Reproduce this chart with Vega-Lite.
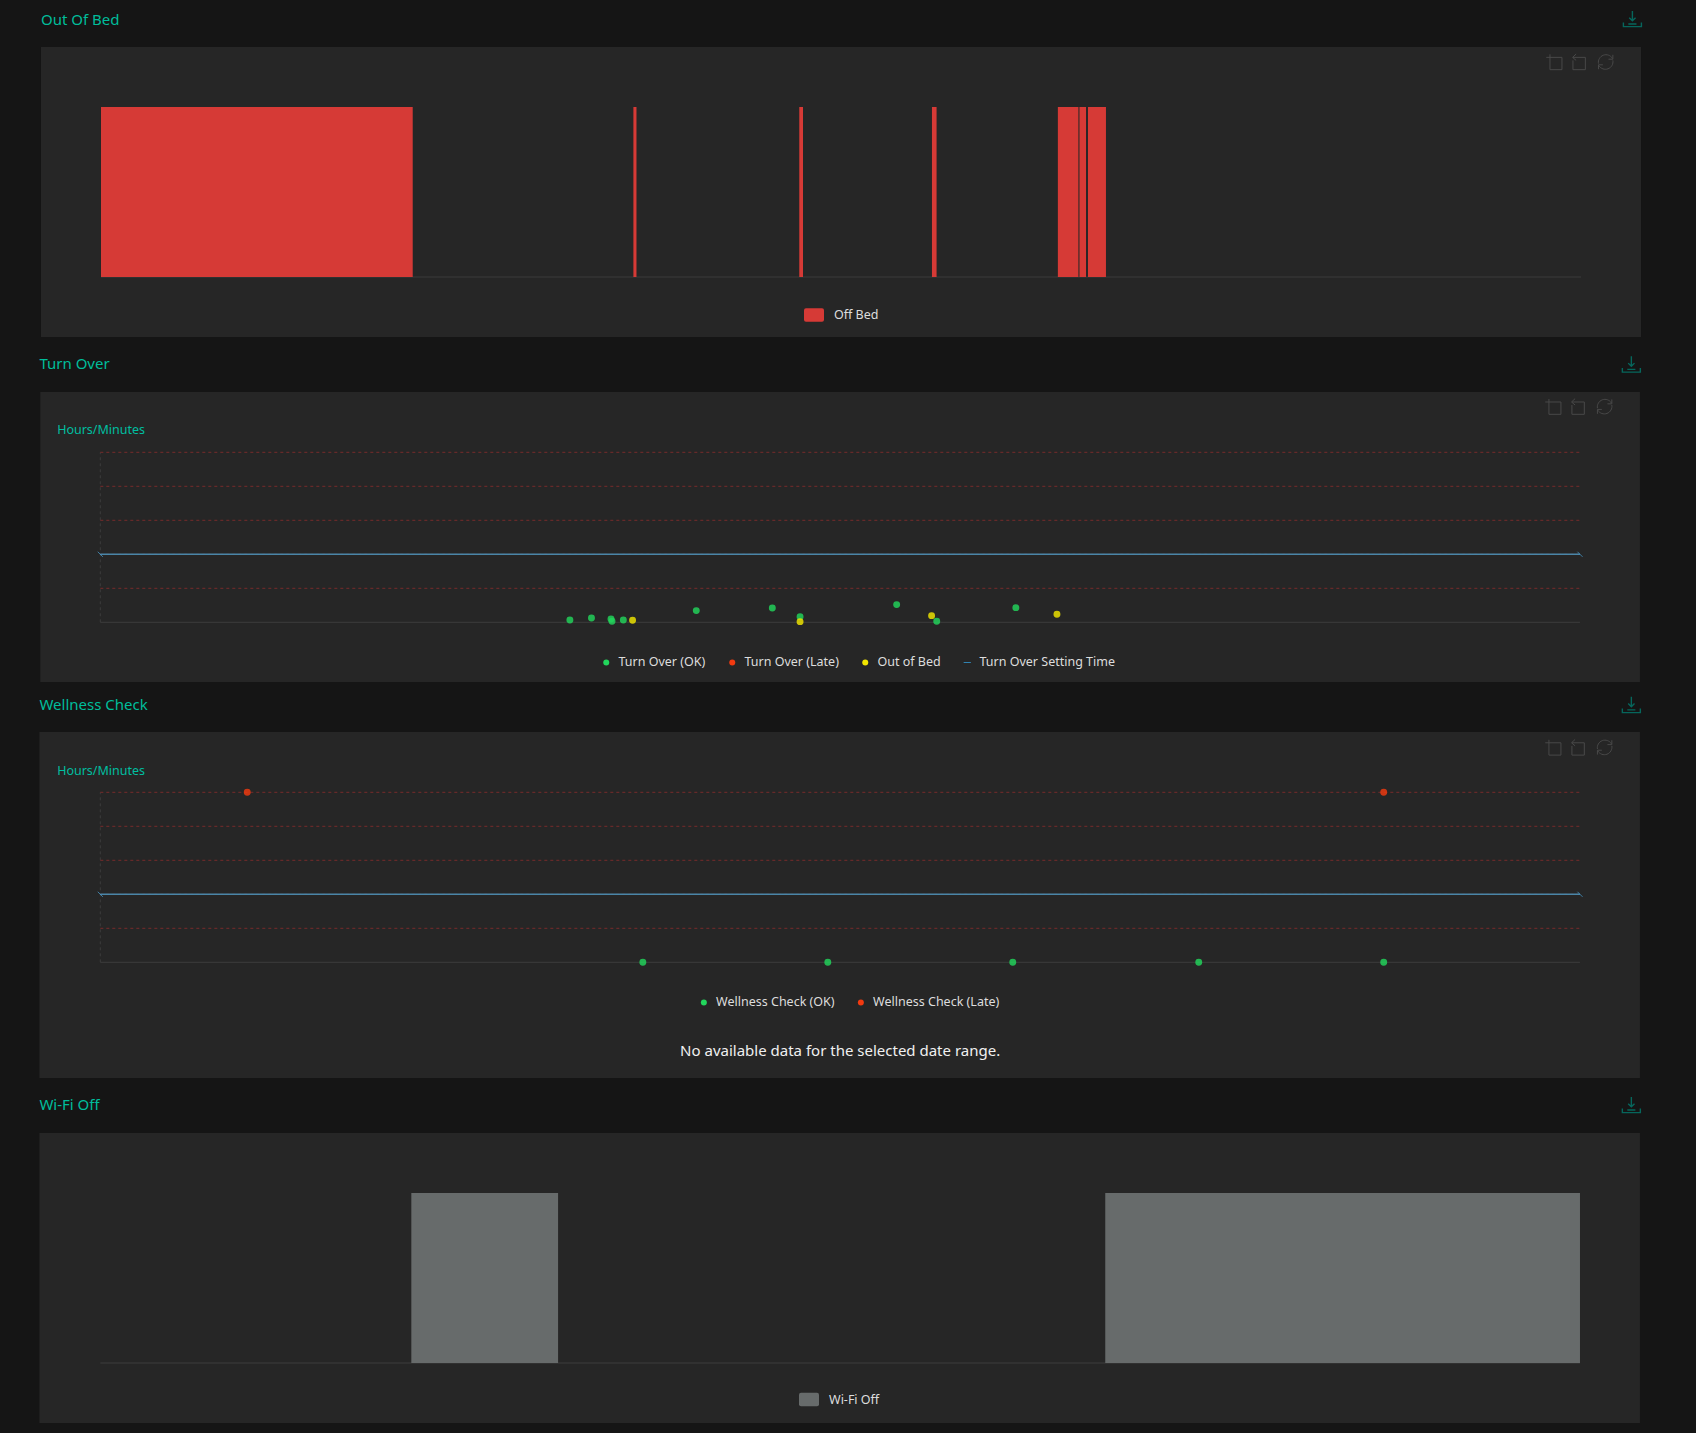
{"$schema":"https://vega.github.io/schema/vega-lite/v6.json","background":"#151515","padding":0,"autosize":{"type":"pad"},"bounds":"flush","spacing":0,
"resolve":{"scale":{"color":"independent","shape":"independent"},"legend":{"color":"independent","shape":"independent"}},
"config":{"view":{"fill":null,"stroke":null},"font":"Noto Sans","axis":{"labelFont":"Noto Sans","labelFontSize":12.5,"labelColor":"#dddddd","title":null,"domain":false,"grid":false,"tickColor":"#3c3c3c","labelOverlap":false,"labelFlush":false,"labelBound":false,"zindex":1},"legend":{"labelFont":"Noto Sans","labelFontSize":12.5,"labelColor":"#dddddd","title":null,"orient":"none","direction":"horizontal"}},
"vconcat":[
{"width":1696,"height":345,
"layer":[
{"data":{"values":[{"start":"2024-01-01T14:01:37","end":"2024-01-02T15:58:23","low":-0.35294,"high":1.35294}]},"mark":{"type":"rect","color":"#262626"},
"encoding":{"x":{"field":"start","type":"temporal","scale":{"domain":["2024-01-01T13:21:44","2024-01-02T16:51:53"],"nice":false},"axis":{"values":["2024-01-01T15:00:00","2024-01-01T20:00:00","2024-01-02T01:00:00","2024-01-02T06:00:00","2024-01-02T11:00:00","2024-01-02T15:00:00"],"format":"%-H:%M","orient":"bottom","offset":-68,"ticks":false,"labelPadding":0}},"x2":{"field":"end"},"y":{"field":"low","type":"quantitative","scale":{"domain":[-0.4,1.62941],"nice":false,"zero":false},"axis":null},"y2":{"field":"high"}}},
{"data":{"values":[{"start":"2024-01-01T15:00:00","end":"2024-01-02T15:00:00","level":0}]},"mark":{"type":"rule","color":"#3c3c3c","strokeWidth":1},"encoding":{"x":{"field":"start","type":"temporal"},"x2":{"field":"end"},"y":{"field":"level","type":"quantitative"}}},
{"data":{"values":[{"start":"2024-01-01T15:00:00","end":"2024-01-01T20:03:18","series":"Off Bed"},{"start":"2024-01-01T23:38:00","end":"2024-01-01T23:41:00","series":"Off Bed"},{"start":"2024-01-02T02:19:24","end":"2024-01-02T02:23:00","series":"Off Bed"},{"start":"2024-01-02T04:28:30","end":"2024-01-02T04:33:00","series":"Off Bed"},{"start":"2024-01-02T06:31:00","end":"2024-01-02T06:51:00","series":"Off Bed"},{"start":"2024-01-02T06:52:00","end":"2024-01-02T06:58:24","series":"Off Bed"},{"start":"2024-01-02T07:00:18","end":"2024-01-02T07:17:48","series":"Off Bed"}]},"mark":{"type":"rect"},
"encoding":{"x":{"field":"start","type":"temporal"},"x2":{"field":"end"},"y":{"datum":0,"type":"quantitative"},"y2":{"datum":1},"color":{"field":"series","type":"nominal","scale":{"domain":["Off Bed"],"range":["#d63a36"]},"legend":{"legendX":804,"legendY":305,"symbolType":"M-1,-0.48Q-1,-0.68 -0.8,-0.68H0.8Q1,-0.68 1,-0.48V0.48Q1,0.68 0.8,0.68H-0.8Q-1,0.68 -1,0.48Z","symbolSize":400,"symbolStrokeWidth":0,"labelOffset":10}}}},
{"data":{"values":[{"t":"2024-01-01T14:01:37","v":1.5147,"label":"Out Of Bed"}]},"mark":{"type":"text","align":"left","baseline":"middle","color":"#00bd9b","fontSize":15,"font":"Noto Sans"},"encoding":{"x":{"field":"t","type":"temporal"},"y":{"field":"v","type":"quantitative"},"text":{"field":"label"}}},
{"data":{"values":[{"t":"2024-01-02T15:50:00","v":1.5176}]},"mark":{"type":"point","filled":false,"size":324,"strokeWidth":1.4,"color":"#00897b","shape":"M0,-0.9V0.2M-0.35,-0.15L0,0.2L0.35,-0.15M-1,0.4V0.85H1V0.4M-0.45,0.55H0.45"},"encoding":{"x":{"field":"t","type":"temporal"},"y":{"field":"v","type":"quantitative"}}},
{"data":{"values":[{"t":"2024-01-02T14:34:00","v":1.2647}]},"mark":{"type":"point","filled":false,"size":256,"strokeWidth":1,"color":"#585858","shape":"M-1,-0.58H0.96V0.96H-0.54V-0.96"},"encoding":{"x":{"field":"t","type":"temporal"},"y":{"field":"v","type":"quantitative"}}},
{"data":{"values":[{"t":"2024-01-02T14:58:00","v":1.2647}]},"mark":{"type":"point","filled":false,"size":256,"strokeWidth":1,"color":"#585858","shape":"M-0.75,-0.58H0.8V0.96H-0.75V-0.2M-0.35,-1L-0.8,-0.58L-0.35,-0.2"},"encoding":{"x":{"field":"t","type":"temporal"},"y":{"field":"v","type":"quantitative"}}},
{"data":{"values":[{"t":"2024-01-02T15:24:00","v":1.2647}]},"mark":{"type":"point","filled":false,"size":256,"strokeWidth":1,"color":"#585858","shape":"M-0.9,0.2A0.95,0.95 0 0 1 0.85,-0.45M0.9,-0.9V-0.35H0.35M0.9,-0.2A0.95,0.95 0 0 1 -0.85,0.45M-0.9,0.9V0.35H-0.35"},"encoding":{"x":{"field":"t","type":"temporal"},"y":{"field":"v","type":"quantitative"}}}
]},
{"width":1696,"height":345,
"layer":[
{"data":{"values":[{"start":"2024-01-01T14:01:37","end":"2024-01-02T15:58:23","low":-5.27,"high":20.32}]},"mark":{"type":"rect","color":"#262626"},
"encoding":{"x":{"field":"start","type":"temporal","scale":{"domain":["2024-01-01T13:22:23","2024-01-02T16:52:55"],"nice":false},"axis":{"values":["2024-01-01T15:00:00","2024-01-01T18:00:00","2024-01-01T21:00:00","2024-01-02T00:00:00","2024-01-02T03:00:00","2024-01-02T06:00:00","2024-01-02T09:00:00","2024-01-02T12:00:00","2024-01-02T15:00:00"],"format":"%-H:%M","orient":"bottom","offset":-67.7,"tickSize":5,"labelPadding":1}},"x2":{"field":"end"},"y":{"field":"low","type":"quantitative","scale":{"domain":[-5.974,24.468],"nice":false,"zero":false},"axis":{"values":[0,3,6,9,12,15],"labelExpr":"datum.value==15?'>12h':datum.value==12?'12h':datum.value==6?'6h':''","orient":"left","offset":-100.3,"tickSize":5,"labelPadding":3,"labelFontSize":11.5,"labelBaseline":"middle"}},"y2":{"field":"high"}}},
{"data":{"values":[{"start":"2024-01-01T15:00:00","end":"2024-01-02T15:00:00","level":0}]},"mark":{"type":"rule","color":"#3c3c3c","strokeWidth":1},"encoding":{"x":{"field":"start","type":"temporal"},"x2":{"field":"end"},"y":{"field":"level","type":"quantitative"}}},
{"data":{"values":[{"start":"2024-01-01T15:00:00","low":0,"high":15}]},"mark":{"type":"rule","color":"#3c3c3c","strokeDash":[3,3]},"encoding":{"x":{"field":"start","type":"temporal"},"y":{"field":"low","type":"quantitative"},"y2":{"field":"high"}}},
{"data":{"values":[{"start":"2024-01-01T15:00:00","end":"2024-01-02T15:00:00","level":3},{"start":"2024-01-01T15:00:00","end":"2024-01-02T15:00:00","level":6},{"start":"2024-01-01T15:00:00","end":"2024-01-02T15:00:00","level":9},{"start":"2024-01-01T15:00:00","end":"2024-01-02T15:00:00","level":12},{"start":"2024-01-01T15:00:00","end":"2024-01-02T15:00:00","level":15}]},"mark":{"type":"rule","color":"#772b2b","strokeDash":[3,3]},"encoding":{"x":{"field":"start","type":"temporal"},"x2":{"field":"end"},"y":{"field":"level","type":"quantitative"}}},
{"data":{"values":[{"start":"2024-01-01T15:00:00","end":"2024-01-02T15:00:00","level":6}]},"mark":{"type":"rule","color":"#4a86a8","strokeWidth":1.6},"encoding":{"x":{"field":"start","type":"temporal"},"x2":{"field":"end"},"y":{"field":"level","type":"quantitative"}}},
{"data":{"values":[{"t":"2024-01-01T15:00:00","v":6},{"t":"2024-01-02T15:00:00","v":6}]},"mark":{"type":"point","filled":false,"size":36,"strokeWidth":1,"color":"#4aa3d8","shape":"M-0.85,-0.85L0.85,0.85"},"encoding":{"x":{"field":"t","type":"temporal"},"y":{"field":"v","type":"quantitative"}}},
{"data":{"values":[{"t":"2024-01-01T14:18:00","v":17,"label":"Hours/Minutes"}]},"mark":{"type":"text","align":"left","baseline":"middle","color":"#00bfa0","fontSize":12.5,"font":"Noto Sans"},"encoding":{"x":{"field":"t","type":"temporal"},"y":{"field":"v","type":"quantitative"},"text":{"field":"label"}}},
{"data":{"values":[{"t":"2024-01-01T14:00:44","v":22.75,"label":"Turn Over"}]},"mark":{"type":"text","align":"left","baseline":"middle","color":"#00bd9b","fontSize":15,"font":"Noto Sans"},"encoding":{"x":{"field":"t","type":"temporal"},"y":{"field":"v","type":"quantitative"},"text":{"field":"label"}}},
{"data":{"values":[
{"t":"2024-01-01T22:37:00","v":0.206,"series":"Turn Over (OK)"},{"t":"2024-01-01T22:58:00","v":0.382,"series":"Turn Over (OK)"},{"t":"2024-01-01T23:17:00","v":0.294,"series":"Turn Over (OK)"},{"t":"2024-01-01T23:18:00","v":0.088,"series":"Turn Over (OK)"},{"t":"2024-01-01T23:29:00","v":0.206,"series":"Turn Over (OK)"},{"t":"2024-01-02T00:40:00","v":1.03,"series":"Turn Over (OK)"},{"t":"2024-01-02T01:54:00","v":1.265,"series":"Turn Over (OK)"},{"t":"2024-01-02T02:21:00","v":0.5,"series":"Turn Over (OK)"},{"t":"2024-01-02T03:55:00","v":1.56,"series":"Turn Over (OK)"},{"t":"2024-01-02T04:34:00","v":0.088,"series":"Turn Over (OK)"},{"t":"2024-01-02T05:51:00","v":1.294,"series":"Turn Over (OK)"},
{"t":"2024-01-01T23:38:00","v":0.176,"series":"Out of Bed"},{"t":"2024-01-02T02:21:00","v":0.059,"series":"Out of Bed"},{"t":"2024-01-02T04:29:00","v":0.588,"series":"Out of Bed"},{"t":"2024-01-02T06:31:00","v":0.706,"series":"Out of Bed"}]},
"mark":{"type":"point","filled":true,"size":48,"opacity":0.82},"encoding":{"x":{"field":"t","type":"temporal"},"y":{"field":"v","type":"quantitative"},
"color":{"field":"series","type":"nominal","scale":{"domain":["Turn Over (OK)","Turn Over (Late)","Out of Bed","Turn Over Setting Time"],"range":["#22d65c","#f23a10","#f2e600","#35a8e8"]},"legend":{"legendX":600,"legendY":311,"symbolOpacity":1,"symbolSize":36,"columnPadding":20,"labelOffset":6,"columns":4,"symbolStrokeWidth":0}},
"shape":{"field":"series","type":"nominal","scale":{"domain":["Turn Over (OK)","Turn Over (Late)","Out of Bed","Turn Over Setting Time"],"range":["circle","circle","circle","M-1.2,-0.12H1.2V0.12H-1.2Z"]},"legend":{"legendX":600,"legendY":311,"symbolOpacity":1,"symbolSize":36,"columnPadding":20,"labelOffset":6,"columns":4,"symbolStrokeWidth":0}}}},
{"data":{"values":[{"t":"2024-01-02T15:50:00","v":22.75}]},"mark":{"type":"point","filled":false,"size":324,"strokeWidth":1.4,"color":"#00897b","shape":"M0,-0.9V0.2M-0.35,-0.15L0,0.2L0.35,-0.15M-1,0.4V0.85H1V0.4M-0.45,0.55H0.45"},"encoding":{"x":{"field":"t","type":"temporal"},"y":{"field":"v","type":"quantitative"}}},
{"data":{"values":[{"t":"2024-01-02T14:34:00","v":19.03}]},"mark":{"type":"point","filled":false,"size":256,"strokeWidth":1,"color":"#585858","shape":"M-1,-0.58H0.96V0.96H-0.54V-0.96"},"encoding":{"x":{"field":"t","type":"temporal"},"y":{"field":"v","type":"quantitative"}}},
{"data":{"values":[{"t":"2024-01-02T14:58:00","v":19.03}]},"mark":{"type":"point","filled":false,"size":256,"strokeWidth":1,"color":"#585858","shape":"M-0.75,-0.58H0.8V0.96H-0.75V-0.2M-0.35,-1L-0.8,-0.58L-0.35,-0.2"},"encoding":{"x":{"field":"t","type":"temporal"},"y":{"field":"v","type":"quantitative"}}},
{"data":{"values":[{"t":"2024-01-02T15:24:00","v":19.03}]},"mark":{"type":"point","filled":false,"size":256,"strokeWidth":1,"color":"#585858","shape":"M-0.9,0.2A0.95,0.95 0 0 1 0.85,-0.45M0.9,-0.9V-0.35H0.35M0.9,-0.2A0.95,0.95 0 0 1 -0.85,0.45M-0.9,0.9V0.35H-0.35"},"encoding":{"x":{"field":"t","type":"temporal"},"y":{"field":"v","type":"quantitative"}}}
]},
{"width":1696,"height":400,
"layer":[
{"data":{"values":[{"start":"2024-01-01T11:00:44","end":"2024-01-02T12:58:23","low":-3.403,"high":6.774}]},"mark":{"type":"rect","color":"#262626"},
"encoding":{"x":{"field":"start","type":"temporal","scale":{"domain":["2024-01-01T10:22:23","2024-01-02T13:52:55"],"nice":false},"axis":{"values":["2024-01-01T12:00:00","2024-01-01T15:00:00","2024-01-01T18:00:00","2024-01-01T21:00:00","2024-01-02T00:00:00","2024-01-02T03:00:00","2024-01-02T06:00:00","2024-01-02T09:00:00","2024-01-02T12:00:00"],"format":"%-H:%M","orient":"bottom","offset":-127.7,"tickSize":5,"labelPadding":1}},"x2":{"field":"end"},"y":{"field":"low","type":"quantitative","scale":{"domain":[-3.756,8.009],"nice":false,"zero":false},"axis":{"values":[0,1,2,3,4,5],"labelExpr":"datum.value==5?'>4h':datum.value==4?'4h':datum.value==2?'2h':''","orient":"left","offset":-100.3,"tickSize":5,"labelPadding":3,"labelFontSize":11.5,"labelBaseline":"middle"}},"y2":{"field":"high"}}},
{"data":{"values":[{"start":"2024-01-01T12:00:00","end":"2024-01-02T12:00:00","level":0}]},"mark":{"type":"rule","color":"#3c3c3c","strokeWidth":1},"encoding":{"x":{"field":"start","type":"temporal"},"x2":{"field":"end"},"y":{"field":"level","type":"quantitative"}}},
{"data":{"values":[{"start":"2024-01-01T12:00:00","low":0,"high":5}]},"mark":{"type":"rule","color":"#3c3c3c","strokeDash":[3,3]},"encoding":{"x":{"field":"start","type":"temporal"},"y":{"field":"low","type":"quantitative"},"y2":{"field":"high"}}},
{"data":{"values":[{"start":"2024-01-01T12:00:00","end":"2024-01-02T12:00:00","level":1},{"start":"2024-01-01T12:00:00","end":"2024-01-02T12:00:00","level":2},{"start":"2024-01-01T12:00:00","end":"2024-01-02T12:00:00","level":3},{"start":"2024-01-01T12:00:00","end":"2024-01-02T12:00:00","level":4},{"start":"2024-01-01T12:00:00","end":"2024-01-02T12:00:00","level":5}]},"mark":{"type":"rule","color":"#772b2b","strokeDash":[3,3]},"encoding":{"x":{"field":"start","type":"temporal"},"x2":{"field":"end"},"y":{"field":"level","type":"quantitative"}}},
{"data":{"values":[{"start":"2024-01-01T12:00:00","end":"2024-01-02T12:00:00","level":2}]},"mark":{"type":"rule","color":"#4a86a8","strokeWidth":1.6},"encoding":{"x":{"field":"start","type":"temporal"},"x2":{"field":"end"},"y":{"field":"level","type":"quantitative"}}},
{"data":{"values":[{"t":"2024-01-01T12:00:00","v":2},{"t":"2024-01-02T12:00:00","v":2}]},"mark":{"type":"point","filled":false,"size":36,"strokeWidth":1,"color":"#4aa3d8","shape":"M-0.85,-0.85L0.85,0.85"},"encoding":{"x":{"field":"t","type":"temporal"},"y":{"field":"v","type":"quantitative"}}},
{"data":{"values":[{"t":"2024-01-01T11:18:00","v":5.63,"label":"Hours/Minutes"}]},"mark":{"type":"text","align":"left","baseline":"middle","color":"#00bfa0","fontSize":12.5,"font":"Noto Sans"},"encoding":{"x":{"field":"t","type":"temporal"},"y":{"field":"v","type":"quantitative"},"text":{"field":"label"}}},
{"data":{"values":[{"t":"2024-01-01T11:00:44","v":7.57,"label":"Wellness Check"}]},"mark":{"type":"text","align":"left","baseline":"middle","color":"#00bd9b","fontSize":15,"font":"Noto Sans"},"encoding":{"x":{"field":"t","type":"temporal"},"y":{"field":"v","type":"quantitative"},"text":{"field":"label"}}},
{"data":{"values":[{"t":"2024-01-02T00:00:00","v":-2.61,"label":"No available data for the selected date range."}]},"mark":{"type":"text","align":"center","baseline":"middle","color":"#f0f0f0","fontSize":15,"font":"Noto Sans"},"encoding":{"x":{"field":"t","type":"temporal"},"y":{"field":"v","type":"quantitative"},"text":{"field":"label"}}},
{"data":{"values":[
{"t":"2024-01-01T20:48:00","v":0,"series":"Wellness Check (OK)"},{"t":"2024-01-01T23:48:00","v":0,"series":"Wellness Check (OK)"},{"t":"2024-01-02T02:48:00","v":0,"series":"Wellness Check (OK)"},{"t":"2024-01-02T05:49:00","v":0,"series":"Wellness Check (OK)"},{"t":"2024-01-02T08:49:00","v":0,"series":"Wellness Check (OK)"},
{"t":"2024-01-01T14:23:00","v":5,"series":"Wellness Check (Late)"},{"t":"2024-01-02T08:49:00","v":5,"series":"Wellness Check (Late)"}]},
"mark":{"type":"point","filled":true,"size":48,"opacity":0.82},"encoding":{"x":{"field":"t","type":"temporal"},"y":{"field":"v","type":"quantitative"},
"color":{"field":"series","type":"nominal","scale":{"domain":["Wellness Check (OK)","Wellness Check (Late)"],"range":["#22d65c","#f23a10"]},"legend":{"legendX":697.6,"legendY":306,"symbolOpacity":1,"symbolSize":36,"columnPadding":20,"labelOffset":6,"columns":2,"symbolType":"circle","symbolStrokeWidth":0}}}},
{"data":{"values":[{"t":"2024-01-02T12:50:00","v":7.57}]},"mark":{"type":"point","filled":false,"size":324,"strokeWidth":1.4,"color":"#00897b","shape":"M0,-0.9V0.2M-0.35,-0.15L0,0.2L0.35,-0.15M-1,0.4V0.85H1V0.4M-0.45,0.55H0.45"},"encoding":{"x":{"field":"t","type":"temporal"},"y":{"field":"v","type":"quantitative"}}},
{"data":{"values":[{"t":"2024-01-02T11:34:00","v":6.32}]},"mark":{"type":"point","filled":false,"size":256,"strokeWidth":1,"color":"#585858","shape":"M-1,-0.58H0.96V0.96H-0.54V-0.96"},"encoding":{"x":{"field":"t","type":"temporal"},"y":{"field":"v","type":"quantitative"}}},
{"data":{"values":[{"t":"2024-01-02T11:58:00","v":6.32}]},"mark":{"type":"point","filled":false,"size":256,"strokeWidth":1,"color":"#585858","shape":"M-0.75,-0.58H0.8V0.96H-0.75V-0.2M-0.35,-1L-0.8,-0.58L-0.35,-0.2"},"encoding":{"x":{"field":"t","type":"temporal"},"y":{"field":"v","type":"quantitative"}}},
{"data":{"values":[{"t":"2024-01-02T12:24:00","v":6.32}]},"mark":{"type":"point","filled":false,"size":256,"strokeWidth":1,"color":"#585858","shape":"M-0.9,0.2A0.95,0.95 0 0 1 0.85,-0.45M0.9,-0.9V-0.35H0.35M0.9,-0.2A0.95,0.95 0 0 1 -0.85,0.45M-0.9,0.9V0.35H-0.35"},"encoding":{"x":{"field":"t","type":"temporal"},"y":{"field":"v","type":"quantitative"}}}
]},
{"width":1696,"height":343,
"layer":[
{"data":{"values":[{"start":"2024-01-01T14:00:44","end":"2024-01-02T15:58:23","low":-0.35294,"high":1.35294}]},"mark":{"type":"rect","color":"#262626"},
"encoding":{"x":{"field":"start","type":"temporal","scale":{"domain":["2024-01-01T13:22:23","2024-01-02T16:52:55"],"nice":false},"axis":{"values":["2024-01-01T15:00:00","2024-01-01T20:00:00","2024-01-02T01:00:00","2024-01-02T06:00:00","2024-01-02T11:00:00","2024-01-02T15:00:00"],"format":"%-H:%M","orient":"bottom","offset":-70,"ticks":false,"labelPadding":0}},"x2":{"field":"end"},"y":{"field":"low","type":"quantitative","scale":{"domain":[-0.41176,1.60588],"nice":false,"zero":false},"axis":null},"y2":{"field":"high"}}},
{"data":{"values":[{"start":"2024-01-01T15:00:00","end":"2024-01-02T15:00:00","level":0}]},"mark":{"type":"rule","color":"#3c3c3c","strokeWidth":1},"encoding":{"x":{"field":"start","type":"temporal"},"x2":{"field":"end"},"y":{"field":"level","type":"quantitative"}}},
{"data":{"values":[{"start":"2024-01-01T20:02:40","end":"2024-01-01T22:25:30","series":"Wi-Fi Off"},{"start":"2024-01-02T07:18:00","end":"2024-01-02T15:00:00","series":"Wi-Fi Off"}]},"mark":{"type":"rect"},
"encoding":{"x":{"field":"start","type":"temporal"},"x2":{"field":"end"},"y":{"datum":0,"type":"quantitative"},"y2":{"datum":1},"color":{"field":"series","type":"nominal","scale":{"domain":["Wi-Fi Off"],"range":["#676b6b"]},"legend":{"legendX":799,"legendY":299.5,"symbolType":"M-1,-0.48Q-1,-0.68 -0.8,-0.68H0.8Q1,-0.68 1,-0.48V0.48Q1,0.68 0.8,0.68H-0.8Q-1,0.68 -1,0.48Z","symbolSize":400,"symbolStrokeWidth":0,"labelOffset":10}}}},
{"data":{"values":[{"t":"2024-01-01T14:00:44","v":1.5176,"label":"Wi-Fi Off"}]},"mark":{"type":"text","align":"left","baseline":"middle","color":"#00bd9b","fontSize":15,"font":"Noto Sans"},"encoding":{"x":{"field":"t","type":"temporal"},"y":{"field":"v","type":"quantitative"},"text":{"field":"label"}}},
{"data":{"values":[{"t":"2024-01-02T15:50:00","v":1.5176}]},"mark":{"type":"point","filled":false,"size":324,"strokeWidth":1.4,"color":"#00897b","shape":"M0,-0.9V0.2M-0.35,-0.15L0,0.2L0.35,-0.15M-1,0.4V0.85H1V0.4M-0.45,0.55H0.45"},"encoding":{"x":{"field":"t","type":"temporal"},"y":{"field":"v","type":"quantitative"}}}
]}
]}
